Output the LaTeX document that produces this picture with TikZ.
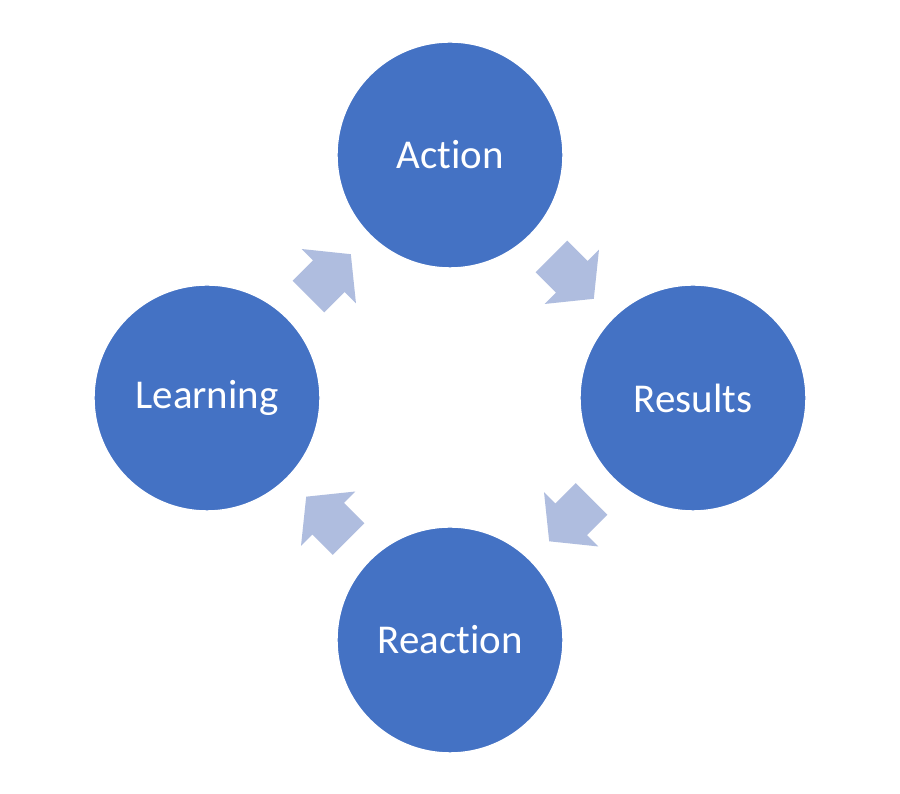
\documentclass[tikz,border=0pt]{standalone}
\usepackage{fontspec}
\setmainfont{Carlito}[Ligatures=NoCommon]
\usepackage{xcolor}
\usepackage{tikz}
\usetikzlibrary{shapes.geometric, shapes.arrows, calc}

\definecolor{cycleblue}{HTML}{4472C4}
\definecolor{arrowblue}{HTML}{AFBDDF}

\begin{document}
\begin{tikzpicture}
\tikzstyle{stage} = [circle, minimum size=4.52cm, inner sep=0pt, fill=cycleblue, draw=white, line width=0.8pt, text=white, font=\fontsize{23.3}{28}\selectfont]
\tikzstyle{flow} = [single arrow, fill=arrowblue, draw=none, inner xsep=0pt, inner ysep=0.44cm, minimum height=1.2cm, single arrow head extend=0.32cm, single arrow tip angle=102]

\fill[white] (0,0) rectangle (18,15.88);
\useasboundingbox (0,0) rectangle (18,15.88);

\node (action) [stage] at (9,12.78) {Action};
\node (results) [stage] at (13.86,7.92) {Results};
\node (reaction) [stage] at (9,3.08) {Reaction};
\node (learning) [stage] at (4.14,7.92) {Learning};

\node (a1) [flow, rotate=45, xshift=-0.15cm] at ($(learning)!0.5!(action)$) {};
\node (a2) [flow, rotate=-45, xshift=-0.15cm] at ($(action)!0.5!(results)$) {};
\node (a3) [flow, rotate=-135, xshift=-0.15cm] at ($(results)!0.5!(reaction)$) {};
\node (a4) [flow, rotate=135, xshift=-0.15cm] at ($(reaction)!0.5!(learning)$) {};
\end{tikzpicture}
\end{document}
